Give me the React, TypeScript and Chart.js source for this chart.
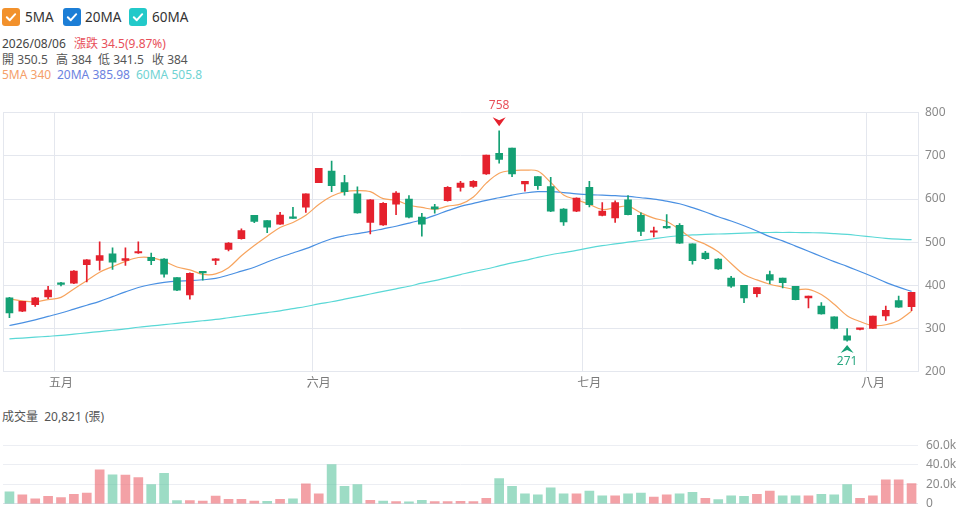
import React, { useEffect, useRef } from 'react';
import { Chart, registerables } from 'chart.js';

Chart.register(...registerables);

const FONT = "'Noto Sans', 'Noto Sans CJK TC', sans-serif";

// ---------- data ----------
const dates = [
  '04/27', '04/28', '04/29', '04/30',
  '05/04', '05/05', '05/06', '05/07', '05/08', '05/11', '05/12', '05/13', '05/14', '05/15',
  '05/18', '05/19', '05/20', '05/21', '05/22', '05/25', '05/26', '05/27', '05/28', '05/29',
  '06/01', '06/02', '06/03', '06/04', '06/05', '06/08', '06/09', '06/10', '06/11', '06/12',
  '06/15', '06/16', '06/17', '06/18', '06/22', '06/23', '06/24', '06/25', '06/26', '06/29', '06/30',
  '07/01', '07/02', '07/03', '07/06', '07/07', '07/08', '07/09', '07/10', '07/13', '07/14',
  '07/15', '07/16', '07/17', '07/20', '07/21', '07/22', '07/23', '07/24', '07/27', '07/28', '07/30', '07/31',
  '08/03', '08/04', '08/05', '08/06',
];

const monthTicks: Record<number, string> = { 4: '五月', 24: '六月', 45: '七月', 67: '八月' };

const opens = [
  371, 340, 355, 373, 406, 405, 448, 458, 473, 458, 475, 465, 461, 418, 378, 430, 458, 483, 508, 562,
  550, 542, 559, 581, 638, 665, 638, 612, 546, 540, 588, 600, 558, 582, 596, 627, 629, 658, 706, 718,
  635, 652, 629, 577, 572, 627, 562, 556, 598, 562, 523, 537, 539, 496, 475, 461, 417, 400, 381, 425,
  417, 398, 371, 352, 327, 283, 298, 300, 329, 365, 350.5,
];
const highs = [
  372, 363, 372, 398, 407, 434, 460, 501, 487, 487, 501, 475, 462, 418, 429, 430, 462, 499, 531, 562,
  550, 569, 581, 612, 671, 688, 655, 628, 599, 592, 617, 608, 567, 588, 629, 641, 643, 702, 758, 718,
  641, 652, 650, 578, 603, 641, 592, 596, 608, 568, 535, 564, 543, 496, 479, 462, 421, 400, 395, 433,
  417, 398, 375, 360, 327, 300, 300, 329, 352, 375, 384,
];
const lows = [
  325, 339, 351, 369, 399, 404, 408, 435, 437, 446, 474, 448, 419, 388, 368, 412, 448, 480, 507, 545,
  522, 541, 555, 569, 638, 617, 609, 567, 519, 539, 564, 556, 514, 567, 595, 618, 627, 657, 683, 652,
  618, 622, 571, 539, 571, 582, 561, 546, 563, 515, 512, 532, 497, 449, 460, 437, 395, 360, 373, 404,
  394, 366, 348, 333, 299, 271, 297, 300, 319, 349, 341.5,
];
const closes = [
  336, 363, 371, 389, 402, 433, 459, 469, 454, 462, 478, 457, 426, 389, 428, 429, 461, 498, 527, 548,
  535, 563, 555, 612, 671, 631, 617, 568, 598, 590, 614, 558, 542, 577, 627, 637, 641, 702, 692, 658,
  641, 631, 572, 547, 602, 587, 572, 592, 564, 525, 526, 533, 498, 457, 462, 438, 398, 371, 395, 412,
  406, 367, 375, 334, 300, 273, 299.5, 329, 342, 349.5, 384,
];
const closeBeforeFirst = 345;

const volumes = [
  12300, 9200, 5100, 7600, 6300, 9800, 11000, 34700, 29700, 29400, 26800, 19600, 31300, 3200, 3200, 2800, 7900, 4700, 4700, 2800,
  2500, 4700, 5000, 20500, 10100, 40100, 18000, 19600, 3500, 2800, 2200, 1900, 3500, 2200, 2200, 2500, 2200, 5700, 25900, 18000,
  10100, 9200, 16400, 10100, 10100, 13000, 8200, 8200, 10100, 11000, 7000, 9200, 10100, 11700, 5700, 4400, 8200, 7600, 9800, 13000,
  8200, 8200, 8200, 9800, 9200, 19600, 5700, 8200, 24600, 24600, 20821,
];

const ma5 = [
  369, 364, 362, 367, 372.3, 391.7, 410.9, 430.6, 443.5, 455.5, 464.6, 464.2, 455.6, 442.6, 435.9, 425.6, 426.5, 441, 468.5, 492.3,
  513.9, 534.2, 545.6, 562.5, 587.1, 606.3, 617.1, 619.6, 617, 600.8, 597.4, 585.5, 580.5, 576.2, 583.5, 588.2, 604.8, 636.8, 659.8, 666,
  666.8, 664.8, 638.6, 609.6, 598.5, 587.7, 575.9, 580, 583.4, 568, 555.7, 548, 529.2, 507.9, 495.1, 477.7, 450.6, 425.1, 412.6, 402.6,
  396.2, 390, 390.8, 378.6, 356.3, 329.7, 316.2, 307.1, 308.8, 318.8, 340,
];
const ma20 = [
  307, 313, 320, 328, 336, 345, 354, 363, 374, 385, 395, 402, 407, 410, 411, 413, 416, 424, 433, 442,
  454, 465, 475, 485, 497, 508, 515, 520, 525, 531, 537, 544, 552, 562, 573, 583, 590, 597, 603, 609,
  614, 617, 617, 615, 612, 610, 609, 608, 606, 603, 600, 595, 589, 580, 570, 559, 549, 538, 526, 513,
  503, 491, 479, 467, 455, 444, 432, 420, 407, 396, 385.98,
];
const ma60 = [
  276, 278, 280, 282, 284, 287, 290, 293, 296, 299, 303, 306, 309, 312, 315, 318, 321, 325, 329, 333,
  337, 341, 346, 351, 357, 362, 368, 374, 380, 386, 392, 398, 405, 411, 418, 425, 432, 438, 445, 452,
  458, 465, 471, 476, 481, 487, 492, 496, 500, 504, 508, 512, 515, 517, 518, 519, 520, 521, 522, 522.5,
  522.5, 522.5, 522, 521.5, 520, 518, 515, 512, 509, 507, 505.8,
];

const priceMin = 200;
const priceMax = 800;
const priceStep = 100;
const volMax = 60000;
const volStep = 20000;

// ---------- styles ----------
const UP = '#e5212d';
const DOWN = '#14a074';
const UP_VOL = 'rgba(236, 110, 118, 0.65)';
const DOWN_VOL = 'rgba(92, 196, 158, 0.6)';
const GRID = '#e4e7ee';
const MA_COLORS = ['#f7a45e', '#4a90e2', '#5ad8d6'];

const last = closes.length - 1;

const candleColors = closes.map((c, i) => (c >= opens[i] ? UP : DOWN));
const volColors = closes.map((c, i) => {
  const prev = i === 0 ? closeBeforeFirst : closes[i - 1];
  return c >= prev ? UP_VOL : DOWN_VOL;
});

const markerPlugin = {
  id: 'hiLoMarkers',
  afterDatasetsDraw(chart: any) {
    const { ctx, scales } = chart;
    const x = scales.x;
    const y = scales.y;
    let hi = 0;
    let lo = 0;
    highs.forEach((h, i) => { if (h > highs[hi]) hi = i; });
    lows.forEach((l, i) => { if (l < lows[lo]) lo = i; });
    ctx.save();
    ctx.font = `12px ${FONT}`;
    ctx.textAlign = 'center';
    ctx.textBaseline = 'middle';
    // high marker
    {
      const px = x.getPixelForValue(hi);
      const py = y.getPixelForValue(highs[hi]);
      const tip = py - 4.5;
      const base = py - 13.5;
      ctx.fillStyle = UP;
      ctx.beginPath();
      ctx.moveTo(px, tip);
      ctx.lineTo(px - 6.5, base);
      ctx.lineTo(px, base + 3);
      ctx.lineTo(px + 6.5, base);
      ctx.closePath();
      ctx.fill();
      ctx.fillStyle = '#e8505a';
      ctx.fillText(String(highs[hi]), px, py - 25);
    }
    // low marker
    {
      const px = x.getPixelForValue(lo);
      const py = y.getPixelForValue(lows[lo]);
      const tip = py + 4;
      const base = py + 12;
      ctx.fillStyle = DOWN;
      ctx.beginPath();
      ctx.moveTo(px, tip);
      ctx.lineTo(px - 6.5, base);
      ctx.lineTo(px, base - 3);
      ctx.lineTo(px + 6.5, base);
      ctx.closePath();
      ctx.fill();
      ctx.fillStyle = '#2aa880';
      ctx.fillText(String(lows[lo]), px, py + 21);
    }
    ctx.restore();
  },
};

const framePlugin = {
  id: 'frame',
  beforeDatasetsDraw(chart: any) {
    const { ctx, chartArea } = chart;
    ctx.save();
    ctx.strokeStyle = GRID;
    ctx.lineWidth = 1;
    ctx.beginPath();
    ctx.moveTo(chartArea.left + 0.5, chartArea.top);
    ctx.lineTo(chartArea.left + 0.5, chartArea.bottom);
    ctx.stroke();
    ctx.restore();
  },
};

function Check({ color, x }: { color: string; x: number }) {
  return (
    <svg width="18" height="18" style={{ position: 'absolute', left: x, top: 8 }}>
      <rect x="0" y="0" width="18" height="18" rx="3" ry="3" fill={color} />
      <path d="M4.8 9.2 L7.8 12.2 L13.2 6.2" stroke="#fff" strokeWidth="2" fill="none" strokeLinecap="round" strokeLinejoin="round" />
    </svg>
  );
}

export default function App() {
  const priceRef = useRef<HTMLCanvasElement>(null);
  const volRef = useRef<HTMLCanvasElement>(null);

  useEffect(() => {
    Chart.defaults.font.family = FONT;
    const tickFont = { size: 12, family: FONT };

    const price = new Chart(priceRef.current as HTMLCanvasElement, {
      type: 'bar',
      data: {
        labels: dates,
        datasets: [
          {
            type: 'bar',
            label: 'body',
            data: opens.map((o, i) => [o, closes[i]]) as any,
            backgroundColor: candleColors,
            barThickness: 7,
            grouped: false,
            minBarLength: 1.5,
            order: 0,
          } as any,
          {
            type: 'bar',
            label: 'wick',
            data: lows.map((l, i) => [l, highs[i]]) as any,
            backgroundColor: candleColors,
            barThickness: 1,
            grouped: false,
            order: 1,
          } as any,
          {
            type: 'line',
            label: '5MA',
            data: ma5,
            borderColor: MA_COLORS[0],
            borderWidth: 1.2,
            pointRadius: 0,
            tension: 0.35,
            order: 2,
          } as any,
          {
            type: 'line',
            label: '20MA',
            data: ma20,
            borderColor: MA_COLORS[1],
            borderWidth: 1.2,
            pointRadius: 0,
            tension: 0.35,
            order: 3,
          } as any,
          {
            type: 'line',
            label: '60MA',
            data: ma60,
            borderColor: MA_COLORS[2],
            borderWidth: 1.2,
            pointRadius: 0,
            tension: 0.35,
            order: 4,
          } as any,
        ],
      },
      options: {
        responsive: false,
        animation: false,
        events: [],
        layout: { padding: { left: 3, top: 22.7, right: 0, bottom: 0 } },
        plugins: { legend: { display: false }, tooltip: { enabled: false } },
        scales: {
          x: {
            type: 'category',
            offset: true,
            grid: {
              offset: true,
              drawTicks: false,
              color: (c: any) => (monthTicks[c.index] ? GRID : 'rgba(0,0,0,0)'),
            },
            border: { display: true, color: GRID },
            ticks: {
              autoSkip: false,
              maxRotation: 0,
              minRotation: 0,
              padding: 5,
              color: '#7a7a7a',
              font: tickFont,
              callback: (_v: any, i: number) => monthTicks[i] ?? '',
            },
            afterFit: (s: any) => { s.height = 28.3; },
          },
          y: {
            position: 'right',
            min: priceMin,
            max: priceMax,
            grid: { color: GRID, drawTicks: false },
            border: { display: true, color: GRID },
            ticks: { stepSize: priceStep, padding: 7, color: '#8a8a8a', font: tickFont },
            afterFit: (s: any) => { s.width = 46; },
          },
        },
      } as any,
      plugins: [framePlugin, markerPlugin],
    });

    const vol = new Chart(volRef.current as HTMLCanvasElement, {
      type: 'bar',
      data: {
        labels: dates,
        datasets: [
          {
            label: 'vol',
            data: volumes,
            backgroundColor: volColors,
            barThickness: 9,
          },
        ],
      },
      options: {
        responsive: false,
        animation: false,
        events: [],
        layout: { padding: { left: 3, top: 14.3, right: 0, bottom: 12.3 } },
        plugins: { legend: { display: false }, tooltip: { enabled: false } },
        scales: {
          x: { type: 'category', offset: true, display: false },
          y: {
            position: 'right',
            min: 0,
            max: volMax,
            grid: {
              drawTicks: false,
              color: (c: any) => (c.tick && c.tick.value === 0 ? '#dde0e8' : '#eceef3'),
            },
            border: { display: false },
            ticks: {
              stepSize: volStep,
              padding: 8,
              color: '#8a8a8a',
              font: tickFont,
              callback: (v: any) => (v === 0 ? '0' : (v / 1000).toFixed(1) + 'k'),
            },
            afterFit: (s: any) => { s.width = 46; },
          },
        },
      } as any,
    });

    return () => {
      price.destroy();
      vol.destroy();
    };
  }, []);

  const txt: React.CSSProperties = { position: 'absolute', fontSize: 12, lineHeight: '14px', whiteSpace: 'nowrap' };
  const chg = closes[last] - closes[last - 1];
  const pct = (chg / closes[last - 1]) * 100;

  return (
    <div style={{ position: 'absolute', left: 0, top: 0, width: 964, height: 519, background: '#fff', fontFamily: FONT, overflow: 'hidden' }}>
      {/* legend */}
      <Check color="#f2912c" x={2} />
      <span style={{ ...txt, left: 25, top: 8, fontSize: 13.5, lineHeight: '18px', color: '#333' }}>5MA</span>
      <Check color="#1c7ed6" x={63} />
      <span style={{ ...txt, left: 85, top: 8, fontSize: 13.5, lineHeight: '18px', color: '#333' }}>20MA</span>
      <Check color="#22c9c9" x={129} />
      <span style={{ ...txt, left: 152, top: 8, fontSize: 13.5, lineHeight: '18px', color: '#333' }}>60MA</span>

      {/* info lines */}
      <span style={{ ...txt, left: 2, top: 37, color: '#444' }}>2026/08/06</span>
      <span style={{ ...txt, left: 74, top: 37, color: '#e8505a' }}>
        漲跌 {chg.toFixed(1)}({pct.toFixed(2)}%)
      </span>
      <span style={{ ...txt, left: 2, top: 53, color: '#555' }}>開 {opens[last]}</span>
      <span style={{ ...txt, left: 56, top: 53, color: '#555' }}>高 {highs[last]}</span>
      <span style={{ ...txt, left: 98, top: 53, color: '#555' }}>低 {lows[last]}</span>
      <span style={{ ...txt, left: 152, top: 53, color: '#555' }}>收 {closes[last]}</span>
      <span style={{ ...txt, left: 2, top: 68, color: '#f5a06a' }}>5MA {ma5[last]}</span>
      <span style={{ ...txt, left: 57, top: 68, color: '#6b82e0' }}>20MA {ma20[last]}</span>
      <span style={{ ...txt, left: 136, top: 68, color: '#6fd3d3' }}>60MA {ma60[last]}</span>

      <div style={{ position: 'absolute', left: 0, top: 90, width: 964, height: 310 }}>
        <canvas ref={priceRef} width={964} height={310} style={{ width: 964, height: 310 }} />
      </div>

      <span style={{ ...txt, left: 2, top: 410, color: '#555' }}>
        成交量&nbsp;&nbsp;{volumes[last].toLocaleString('en-US')} (張)
      </span>

      <div style={{ position: 'absolute', left: 0, top: 430, width: 964, height: 89 }}>
        <canvas ref={volRef} width={964} height={89} style={{ width: 964, height: 89 }} />
      </div>
    </div>
  );
}
